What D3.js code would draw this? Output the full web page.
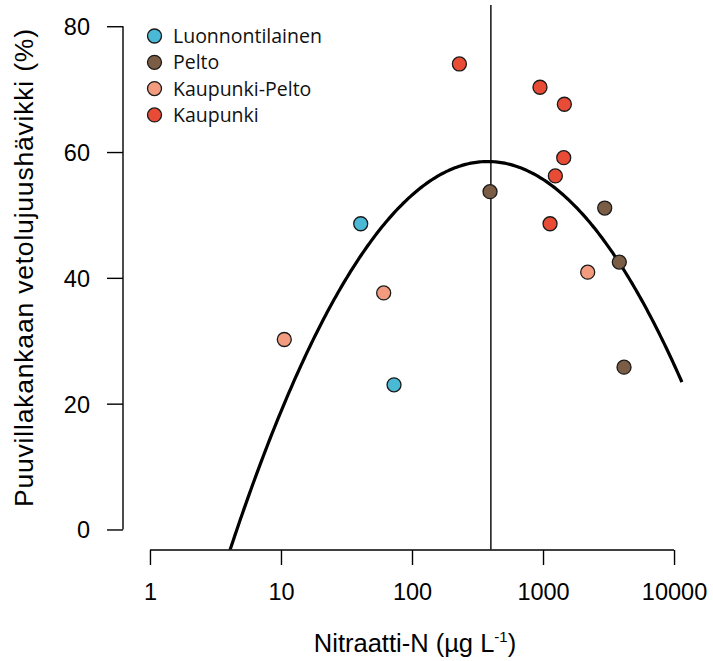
<!DOCTYPE html>
<html>
<head>
<meta charset="utf-8">
<script src="https://cdn.jsdelivr.net/npm/d3@7"></script>
<style>
  html, body { margin: 0; padding: 0; background: #fff; }
  svg { display: block; }
</style>
</head>
<body>
<svg id="chart" width="713" height="661"></svg>
<script>
// Sample groups and their colours
const groups = ["Luonnontilainen", "Pelto", "Kaupunki-Pelto", "Kaupunki"];
const groupColors = ["#4ab9d6", "#7b5d45", "#f29b7f", "#e84b36"];

// Nitrate-N (µg/L) and tensile strength loss (%) per site
const luonnontilainenX = [40.6, 72.9];
const luonnontilainenY = [48.6, 23.0];
const peltoX = [394, 2958, 3822, 4152];
const peltoY = [53.7, 51.1, 42.5, 25.8];
const kaupunkiPeltoX = [10.6, 60.8, 2193];
const kaupunkiPeltoY = [30.2, 37.6, 40.9];
const kaupunkiX = [230, 948, 1455, 1439, 1242, 1131];
const kaupunkiY = [74.0, 70.3, 67.6, 59.1, 56.2, 48.6];

// Quadratic fit in log10(nitrate): y = a + b*L + c*L^2
const fitCoef = [-47.58, 82.29, -15.96];
const fitRangeLog = [0, 4.06];
const referenceLineX = 400;

const xTicks = [1, 10, 100, 1000, 10000];
const yTicks = [0, 20, 40, 60, 80];

const svg = d3.select("#chart");

const x = d3.scaleLog().domain([Math.pow(10, -0.16), Math.pow(10, 4.16)]).range([129, 695]);
const y = d3.scaleLinear().domain([-3.2, 83.2]).range([549.6, 6.1]);

const tickFont = "'Liberation Sans', Arial, Helvetica, sans-serif";

// Clip region = plotting area
svg.append("defs").append("clipPath").attr("id", "plotArea")
  .append("rect")
  .attr("x", x.range()[0]).attr("y", y.range()[1])
  .attr("width", x.range()[1] - x.range()[0])
  .attr("height", y.range()[0] - y.range()[1]);

// Y axis
const yAxis = svg.append("g")
  .attr("transform", "translate(123,0)")
  .call(d3.axisLeft(y).tickValues(yTicks).tickSize(16).tickPadding(17).tickSizeOuter(0));
yAxis.select(".domain").remove();
yAxis.append("line")
  .attr("x1", 0).attr("x2", 0)
  .attr("y1", y(yTicks[0])).attr("y2", y(yTicks[yTicks.length - 1]))
  .attr("stroke", "#000").attr("stroke-width", 1.4);
yAxis.selectAll(".tick line").attr("stroke", "#000").attr("stroke-width", 1.4);
yAxis.selectAll(".tick text")
  .attr("font-family", tickFont).attr("font-size", 23.5).attr("fill", "#000")
  .attr("dy", "0.36em");

// X axis
const xAxis = svg.append("g")
  .attr("transform", "translate(0,550)")
  .call(d3.axisBottom(x).tickValues(xTicks).tickFormat(d3.format("d")).tickSize(15).tickSizeOuter(0));
xAxis.select(".domain").remove();
xAxis.append("line")
  .attr("y1", 0).attr("y2", 0)
  .attr("x1", x(xTicks[0])).attr("x2", x(xTicks[xTicks.length - 1]))
  .attr("stroke", "#000").attr("stroke-width", 1.4);
xAxis.selectAll(".tick line").attr("stroke", "#000").attr("stroke-width", 1.4);
xAxis.selectAll(".tick text")
  .attr("font-family", tickFont).attr("font-size", 23.5).attr("fill", "#000")
  .attr("y", 50).attr("dy", 0);

// Axis titles
svg.append("text")
  .attr("transform", "translate(33," + 268 + ") rotate(-90)")
  .attr("text-anchor", "middle")
  .attr("font-family", tickFont).attr("font-size", 26.5).attr("fill", "#000")
  .attr("textLength", 478).attr("lengthAdjust", "spacing")
  .text("Puuvillakankaan vetolujuushävikki (%)");

const xTitle = svg.append("text")
  .attr("x", 415).attr("y", 652)
  .attr("text-anchor", "middle")
  .attr("font-family", tickFont).attr("font-size", 25.5).attr("fill", "#000");
xTitle.append("tspan").text("Nitraatti-N (µg L");
xTitle.append("tspan").attr("font-size", 15).attr("dy", -10).text("-1");
xTitle.append("tspan").attr("dy", 10).text(")");

// Fitted curve
const plot = svg.append("g").attr("clip-path", "url(#plotArea)");
const fitPts = d3.range(0, 301).map(i => {
  const L = fitRangeLog[0] + (fitRangeLog[1] - fitRangeLog[0]) * i / 300;
  return [Math.pow(10, L), fitCoef[0] + fitCoef[1] * L + fitCoef[2] * L * L];
});
plot.append("path")
  .datum(fitPts)
  .attr("fill", "none").attr("stroke", "#000").attr("stroke-width", 3.2)
  .attr("d", d3.line().x(d => x(d[0])).y(d => y(d[1])));

// Vertical reference line
svg.append("line")
  .attr("x1", x(referenceLineX)).attr("x2", x(referenceLineX))
  .attr("y1", y.range()[1] - 1).attr("y2", y.range()[0])
  .attr("stroke", "#000").attr("stroke-width", 1.4);

// Points
const series = [
  { xs: luonnontilainenX, ys: luonnontilainenY },
  { xs: peltoX, ys: peltoY },
  { xs: kaupunkiPeltoX, ys: kaupunkiPeltoY },
  { xs: kaupunkiX, ys: kaupunkiY }
];
series.forEach((s, gi) => {
  svg.append("g").selectAll("circle")
    .data(s.xs.map((v, i) => [v, s.ys[i]]))
    .join("circle")
    .attr("cx", d => x(d[0])).attr("cy", d => y(d[1]))
    .attr("r", 7)
    .attr("fill", groupColors[gi])
    .attr("stroke", "#1a1a1a").attr("stroke-width", 1.3);
});

// Legend
const legend = svg.append("g");
groups.forEach((g, i) => {
  const ly = 36 + i * 26.3;
  legend.append("circle")
    .attr("cx", 154.5).attr("cy", ly).attr("r", 7)
    .attr("fill", groupColors[i]).attr("stroke", "#1a1a1a").attr("stroke-width", 1.3);
  legend.append("text")
    .attr("x", 173).attr("y", ly).attr("dy", "0.36em")
    .attr("font-family", "'Open Sans', 'Noto Sans', sans-serif")
    .attr("font-size", 19.5).attr("fill", "#111")
    .text(g);
});
</script>
</body>
</html>
